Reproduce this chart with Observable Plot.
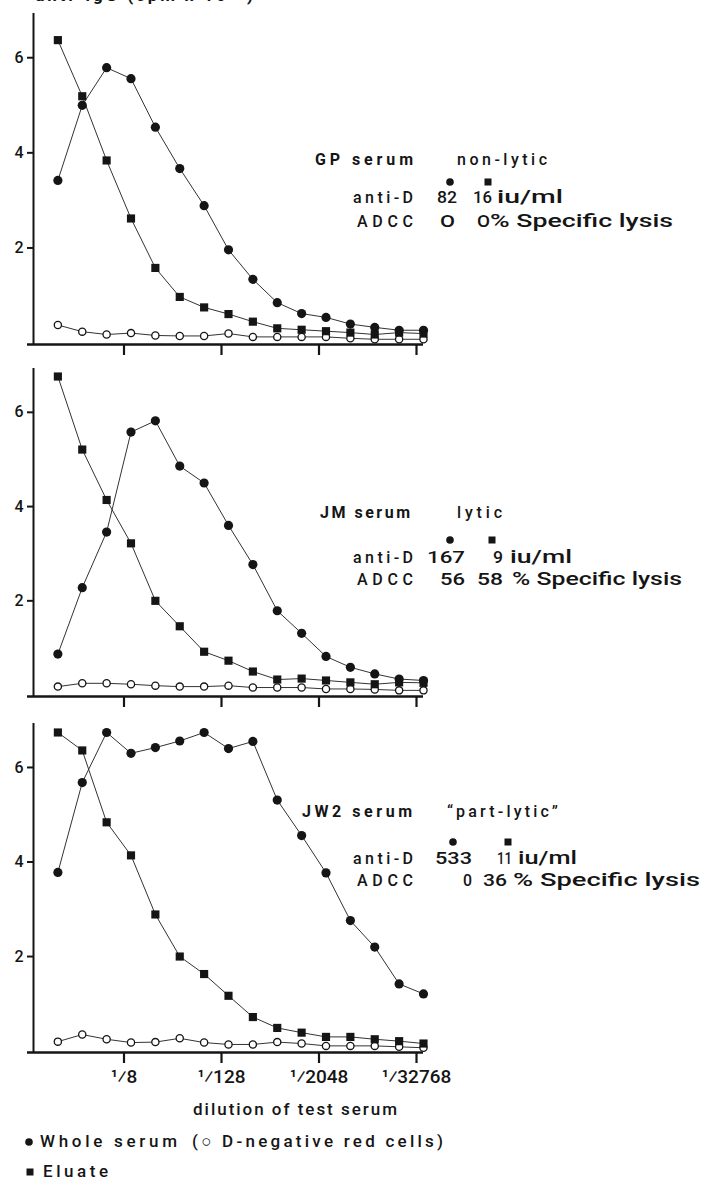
<!DOCTYPE html>
<html><head><meta charset="utf-8">
<script src="https://cdn.jsdelivr.net/npm/d3@7"></script>
<script src="https://cdn.jsdelivr.net/npm/@observablehq/plot@0.6"></script>
<style>
body{margin:0;background:#fff;}
#wrap{position:relative;width:705px;height:1180px;overflow:hidden;background:#fff;}
#wrap svg{position:absolute;left:0;}
</style></head><body><div id="wrap"></div>
<script>
// ---- data ----
const dilutions = [1,2,4,8,16,32,64,128,256,512,1024,2048,4096,8192,16384,32768];
const tickDilutions = [8,128,2048,32768];
const yTicks = [2,4,6];
const gpWhole  = [3.42,5.00,5.79,5.56,4.54,3.67,2.89,1.96,1.34,0.85,0.62,0.54,0.40,0.33,0.27,0.27];
const gpEluate = [6.37,5.19,3.84,2.62,1.58,0.97,0.75,0.61,0.45,0.31,0.28,0.25,0.22,0.18,0.22,0.20];
const gpNeg    = [0.38,0.24,0.18,0.21,0.16,0.15,0.15,0.20,0.13,0.13,0.13,0.13,0.10,0.08,0.08,0.08];
const jmWhole  = [0.87,2.28,3.46,5.58,5.82,4.86,4.50,3.60,2.77,1.79,1.31,0.82,0.59,0.45,0.34,0.31];
const jmEluate = [6.76,5.21,4.14,3.22,2.00,1.46,0.92,0.73,0.50,0.33,0.35,0.31,0.27,0.23,0.27,0.26];
const jmNeg    = [0.18,0.25,0.25,0.23,0.20,0.18,0.18,0.20,0.16,0.16,0.16,0.13,0.13,0.12,0.10,0.10];
const jw2Whole  = [3.78,5.68,6.74,6.30,6.42,6.56,6.74,6.40,6.55,5.31,4.56,3.77,2.76,2.20,1.42,1.21];
const jw2Eluate = [6.74,6.36,4.84,4.14,2.89,2.00,1.63,1.17,0.72,0.49,0.39,0.30,0.30,0.25,0.21,0.16];
const jw2Neg    = [0.20,0.35,0.25,0.18,0.19,0.27,0.18,0.14,0.14,0.19,0.16,0.11,0.11,0.11,0.09,0.07];
const serumNames = ["GP serum","JM serum","JW2 serum"];
const lysisTypes = ["non-lytic","lytic","\u201Cpart-lytic\u201D"];
const antiDWhole = ["82","167","533"];
const antiDEluate = ["16","9","11"];
const adccWhole = ["O","56","0"];
const adccEluate = ["O","58","36"];
const titleText = "\u25CF anti-IgG  (cpm x 10\u207B\u00B3)";
const xTitle = "dilution of test serum";
const legendWhole = "Whole serum";
const legendNeg = "(\u25CB D-negative red cells)";
const legendEluate = "Eluate";

// ---- plots ----
const FONT = "Roboto, 'Liberation Sans', Arial, sans-serif";
const wrap = document.getElementById("wrap");
const ink = "#151515";

function panel(whole, eluate, neg, showLabels, svgTop, frameH, mb) {
  const mt = 10;
  const rows = [];
  const add = (arr, s) => arr.forEach((v, i) => rows.push({d: dilutions[i], v, s}));
  add(whole, "whole"); add(eluate, "eluate"); add(neg, "neg");
  const chart = Plot.plot({
    width: 705, height: mt + frameH + mb,
    marginTop: mt, marginBottom: mb, marginLeft: 33, marginRight: 282,
    style: {fontFamily: FONT, background: "transparent", overflow: "visible"},
    x: {type: "log", base: 2, domain: [0.5, 32768], axis: null},
    y: {domain: [-0.03, 6.93], axis: null},
    marks: [
      Plot.ruleY([-0.03], {insetLeft: -6, stroke: ink, strokeWidth: 2.4}),
      Plot.ruleX([0.5], {stroke: ink, strokeWidth: 2}),
      Plot.axisY(yTicks, {label: null, tickSize: 6, tickPadding: 4, fontSize: 16, fontWeight: 500, stroke: ink, strokeWidth: 2, fill: ink, tickFormat: d => String(d)}),
      Plot.axisX(tickDilutions, {label: null, tickSize: 11, tickPadding: 6, fontSize: 19, fontWeight: 500, fill: ink, stroke: ink, strokeWidth: 2.2, dx: -7,
        tickFormat: showLabels ? (d => "\u00B9\u2044" + d) : (() => "")}),
      Plot.line(rows, {x: "d", y: "v", z: "s", stroke: "#333", strokeWidth: 1}),
      Plot.dot(rows.filter(r => r.s === "neg"), {x: "d", y: "v", r: 3.6, fill: "white", stroke: ink, strokeWidth: 1.3}),
      Plot.dot(rows.filter(r => r.s === "whole"), {x: "d", y: "v", r: 4.6, fill: ink}),
      Plot.dot(rows.filter(r => r.s === "eluate"), {x: "d", y: "v", symbol: "square", r: 4.6, fill: ink})
    ]
  });
  chart.style.top = svgTop + "px";
  wrap.appendChild(chart);
}
panel(gpWhole, gpEluate, gpNeg, false, 3, 331, 16);
panel(jmWhole, jmEluate, jmNeg, false, 358, 328, 16);
panel(jw2Whole, jw2Eluate, jw2Neg, true, 713, 329, 40);

// ---- annotations overlay ----
const ov = d3.select(wrap).append("svg").attr("width", 705).attr("height", 1180)
  .style("top", "0px").style("pointer-events", "none")
  .attr("font-family", FONT).attr("fill", ink);
function txt(x, y, s, size, w, weight, stretch) {
  const t = ov.append("text").attr("x", x).attr("y", y).attr("font-size", size)
    .attr("font-weight", weight || 700).text(s);
  if (w) t.attr("textLength", w).attr("lengthAdjust", stretch ? "spacingAndGlyphs" : "spacing");
  return t;
}
function marker(x, y, sq) {
  if (sq) ov.append("rect").attr("x", x - 3.5).attr("y", y - 3.5).attr("width", 7).attr("height", 7);
  else ov.append("circle").attr("cx", x).attr("cy", y).attr("r", 3.8);
}
// title (clipped at top as in the original)
txt(15, 1, titleText, 17, 238, 700);

const ann = [
  {hx: 315, hy: 165, hw: 98, lx: 457, lw: 90, mw: 450, me: 488, my: 182, ay: 203, cy: 227,
   aw: [437, 20], ae: [473, 19], iu: [497, 66], cw: [440, 15], ce: [477, 13], sl: [490, 183]},
  {hx: 320, hy: 518, hw: 90, lx: 457, lw: 45, mw: 450, me: 492, my: 540, ay: 563, cy: 585,
   aw: [427, 38], ae: [493, 10], iu: [510, 62], cw: [440, 25], ce: [477, 26], sl: [512, 170]},
  {hx: 302, hy: 817, hw: 110, lx: 447, lw: 111, mw: 453, me: 508, my: 842, ay: 864, cy: 886,
   aw: [435, 37], ae: [497, 15], iu: [518, 59], cw: [463, 9], ce: [483, 24], sl: [513, 187]}
];
ann.forEach((a, i) => {
  txt(a.hx, a.hy, serumNames[i], 16, a.hw, 700);
  txt(a.lx, a.hy, lysisTypes[i], 16, a.lw, 500);
  marker(a.mw, a.my, false);
  marker(a.me, a.my, true);
  txt(353, a.ay, "anti-D", 16, 60, 500);
  txt(a.aw[0], a.ay, antiDWhole[i], 16, a.aw[1], 500, true);
  txt(a.ae[0], a.ay, antiDEluate[i], 16, a.ae[1], 500, true);
  txt(a.iu[0], a.ay, "iu/ml", 19, a.iu[1], 500, true);
  txt(357, a.cy, "ADCC", 16, 56, 500);
  txt(a.cw[0], a.cy, adccWhole[i], 16, a.cw[1], 500, true);
  txt(a.ce[0], a.cy, adccEluate[i], 16, a.ce[1], 500, true);
  txt(a.sl[0], a.cy, "% Specific lysis", 19, a.sl[1], 500, true);
});

// axis title and legend
txt(193, 1115, xTitle, 17, 204, 500);
marker(29, 1142, false);
txt(40, 1147, legendWhole, 17, 137, 500);
txt(192, 1147, legendNeg, 17, 251, 500);
marker(30, 1172, true);
txt(43, 1177, legendEluate, 17, 65, 500);
</script></body></html>
